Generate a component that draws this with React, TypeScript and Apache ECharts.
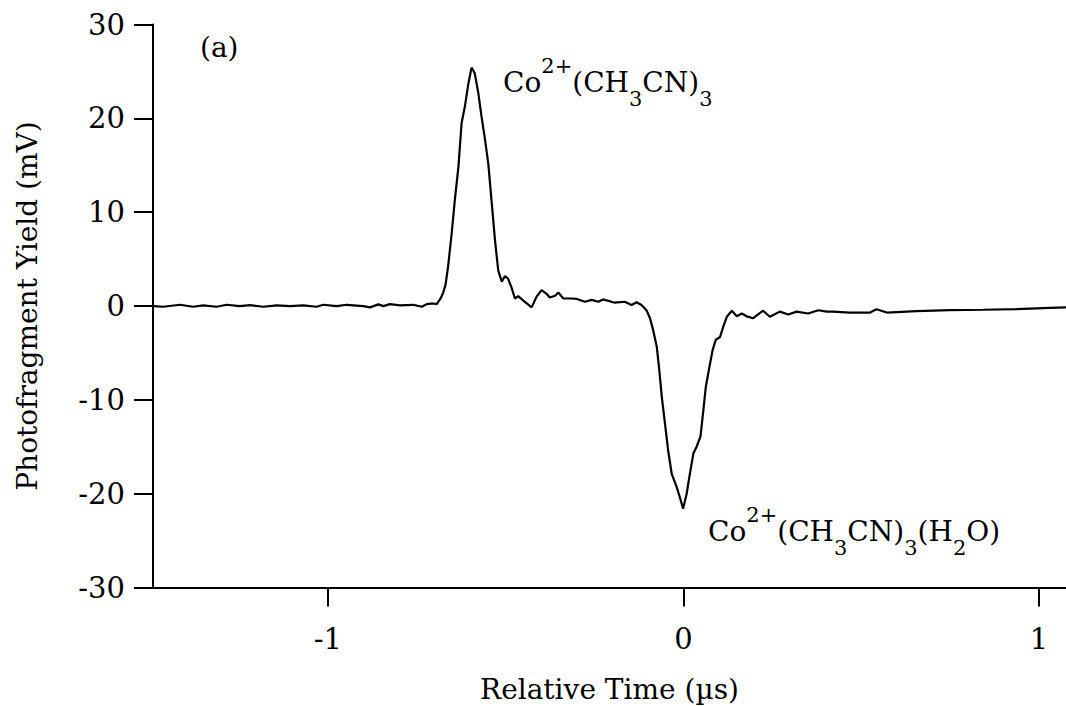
import React, { useEffect, useRef } from "react";
import * as echarts from "echarts";

const FONT = "DejaVu Serif";

// Relative time (µs)
const timeUs = [
  -1.491, -1.463, -1.416, -1.379, -1.351, -1.313, -1.285, -1.248, -1.219, -1.182,
  -1.144, -1.107, -1.069, -1.032, -1.013, -0.976, -0.947, -0.901, -0.882, -0.858,
  -0.844, -0.826, -0.797, -0.76, -0.736, -0.722, -0.704, -0.694,
  -0.683, -0.676, -0.669, -0.662, -0.652, -0.643, -0.633, -0.624, -0.615, -0.605,
  -0.596, -0.587, -0.577, -0.568, -0.558, -0.549, -0.54, -0.53, -0.521, -0.511,
  -0.502, -0.493, -0.483, -0.474, -0.465, -0.451,
  -0.427, -0.413, -0.399, -0.385, -0.376, -0.361, -0.352, -0.338, -0.314, -0.3,
  -0.277, -0.258, -0.24, -0.226, -0.193, -0.165, -0.146, -0.132, -0.118, -0.104,
  -0.094, -0.085, -0.075, -0.068, -0.061, -0.052, -0.043, -0.033, -0.019, -0.01,
  -0.001, 0.009, 0.018, 0.028, 0.037, 0.048, 0.056, 0.063, 0.073, 0.082,
  0.091, 0.103, 0.112, 0.122, 0.136,
  0.15, 0.164, 0.178, 0.196, 0.224, 0.243, 0.271, 0.295, 0.318, 0.351,
  0.379, 0.403, 0.421, 0.468, 0.525, 0.543, 0.572, 0.656, 0.75, 0.843,
  0.937, 1.031, 1.076,
];

// Photofragment yield (mV)
const yieldMv = [
  -0.01, -0.08, 0.13, -0.08, 0.06, -0.08, 0.13, -0.01, 0.1, -0.08,
  0.06, -0.01, 0.06, -0.08, 0.13, -0.01, 0.13, -0.01, -0.15, 0.17,
  -0.01, 0.2, 0.06, 0.13, -0.08, 0.2, 0.27, 0.2,
  0.8, 1.4, 2.3, 4.2, 7.7, 11.3, 14.8, 19.5, 21.2, 23.7,
  25.4, 24.8, 22.7, 20.2, 17.7, 15.2, 11.3, 7.0, 3.8, 2.6,
  3.2, 2.9, 1.9, 0.8, 1.05, 0.6,
  -0.15, 1.0, 1.7, 1.3, 0.9, 1.1, 1.45, 0.8, 0.8, 0.75,
  0.45, 0.65, 0.45, 0.7, 0.35, 0.45, 0.1, 0.4, 0.1, -0.45,
  -1.3, -2.6, -4.35, -6.8, -9.65, -12.5, -15.4, -17.9, -19.3, -20.4,
  -21.6, -20.0, -17.9, -15.7, -15.0, -13.9, -11.1, -8.6, -6.5, -4.7,
  -3.6, -3.3, -2.2, -1.15, -0.5,
  -1.1, -0.8, -1.1, -1.3, -0.5, -1.15, -0.6, -0.9, -0.6, -0.8,
  -0.45, -0.6, -0.6, -0.7, -0.7, -0.35, -0.7, -0.55, -0.45, -0.4,
  -0.33, -0.2, -0.15,
];

const xTicks = [-1, 0, 1];
const yTicks = [-30, -20, -10, 0, 10, 20, 30];

const richStyles = {
  m: { fontFamily: FONT, fontSize: 28, lineHeight: 54, verticalAlign: "middle", fill: "#000" },
  sup: { fontFamily: FONT, fontSize: 21, lineHeight: 21, verticalAlign: "top", fill: "#000" },
  sub: { fontFamily: FONT, fontSize: 21, lineHeight: 28, verticalAlign: "bottom", fill: "#000" },
};

export default function App() {
  const ref = useRef<HTMLDivElement>(null);

  useEffect(() => {
    if (!ref.current) return;
    const chart = echarts.init(ref.current, null, { renderer: "svg" });
    const n = Math.min(timeUs.length, yieldMv.length);
    const data: number[][] = [];
    for (let i = 0; i < n; i++) data.push([timeUs[i], yieldMv[i]]);

    chart.setOption({
      animation: false,
      backgroundColor: "#fff",
      textStyle: { fontFamily: FONT, color: "#000" },
      grid: {
        left: 153,
        right: 0,
        top: 24.5,
        bottom: 118.5,
        containLabel: false,
        outerBoundsMode: "none",
      },
      xAxis: {
        type: "value",
        min: -1.492,
        max: 1.076,
        name: "Relative Time (µs)",
        nameLocation: "middle",
        nameGap: 88,
        nameMoveOverlap: false,
        nameTextStyle: { fontFamily: FONT, fontSize: 28, color: "#000", lineHeight: 28 },
        axisLine: { onZero: false, lineStyle: { color: "#000", width: 2 } },
        axisTick: { show: true, inside: false, length: 19, lineStyle: { color: "#000", width: 2 }, customValues: xTicks },
        axisLabel: {
          customValues: xTicks,
          margin: 37,
          fontFamily: FONT,
          fontSize: 29,
          lineHeight: 29,
          color: "#000",
          formatter: (v: number) => String(v),
        },
        splitLine: { show: false },
      },
      yAxis: {
        type: "value",
        min: -30,
        max: 30,
        interval: 10,
        name: "Photofragment Yield (mV)",
        nameLocation: "middle",
        nameGap: 112,
        nameMoveOverlap: false,
        nameTextStyle: { fontFamily: FONT, fontSize: 28, color: "#000", lineHeight: 28 },
        axisLine: { show: true, onZero: false, lineStyle: { color: "#000", width: 2 } },
        axisTick: { show: true, inside: false, length: 19, lineStyle: { color: "#000", width: 2 } },
        axisLabel: {
          margin: 28,
          fontFamily: FONT,
          fontSize: 29,
          color: "#000",
          formatter: (v: number) => (yTicks.indexOf(v) >= 0 ? String(v) : ""),
        },
        splitLine: { show: false },
      },
      graphic: [
        {
          type: "text",
          x: 200,
          y: 47.3,
          style: { text: "(a)", fontFamily: FONT, fontSize: 28, fill: "#000", verticalAlign: "middle", align: "left" },
        },
        {
          type: "text",
          x: 503,
          y: 55.3,
          style: {
            text: "{m|Co}{sup|2+}{m|(CH}{sub|3}{m|CN)}{sub|3}",
            rich: richStyles,
            fill: "#000",
            verticalAlign: "top",
            align: "left",
          },
        },
        {
          type: "text",
          x: 708,
          y: 504.3,
          style: {
            text: "{m|Co}{sup|2+}{m|(CH}{sub|3}{m|CN)}{sub|3}{m|(H}{sub|2}{m|O)}",
            rich: richStyles,
            fill: "#000",
            verticalAlign: "top",
            align: "left",
          },
        },
      ],
      series: [
        {
          type: "line",
          data,
          showSymbol: false,
          symbol: "none",
          smooth: false,
          lineStyle: { color: "#000", width: 2.2 },
          clip: true,
        },
      ],
    });

    return () => chart.dispose();
  }, []);

  return (
    <div
      ref={ref}
      style={{ position: "absolute", left: 0, top: 0, width: 1066, height: 706 }}
    />
  );
}
